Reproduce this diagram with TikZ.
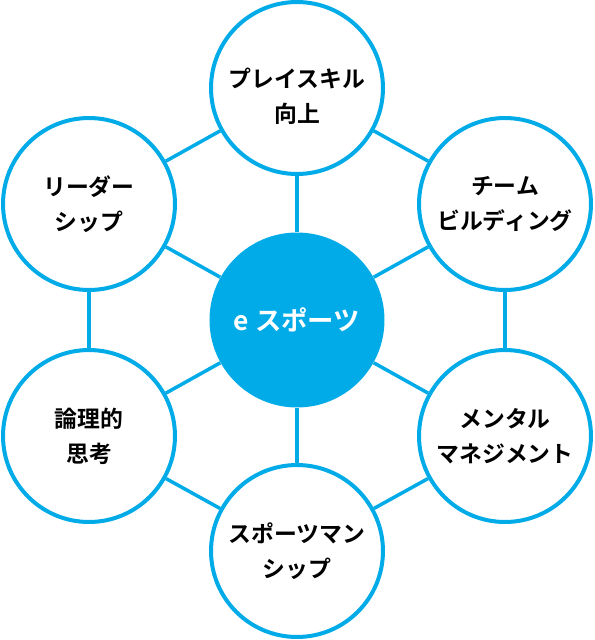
\documentclass[tikz,border=0pt]{standalone}
\usepackage{fontspec}
\newfontfamily\jpfont{Noto Sans CJK JP}[BoldFont={Noto Sans CJK JP Bold}]
\usepackage{tikz}
\usetikzlibrary{positioning}
\definecolor{eblue}{HTML}{00ABE8}

\begin{document}
\begin{tikzpicture}[
    x=0.02cm, y=-0.02cm,
    topic/.style={circle,draw=eblue,line width=0.08cm,fill=white,minimum size=3.44cm,inner sep=0pt,align=center,font=\jpfont\bfseries\fontsize{13}{20}\selectfont},
    caption/.style={inner sep=0pt,align=center,font=\jpfont\bfseries\fontsize{13}{20}\selectfont},
    hub/.style={circle,fill=eblue,minimum size=3.5cm,inner sep=0pt,text=white,font=\jpfont\bfseries\fontsize{15}{20}\selectfont},
    link/.style={draw=eblue,line width=0.07cm}
  ]
    \useasboundingbox (0,0) rectangle (595,640);

    \node[hub] (esports) at (297,320) {e スポーツ};

    \node[topic] (skill)  at (297,88)  {};
    \node[caption] (skilltext) at ([yshift=-0.17cm]skill.center) {プレイスキル\\向上};
    \node[topic] (team)   at (505,204) {チーム\\ビルディング};
    \node[topic] (mental) at (505,436) {メンタル\\マネジメント};
    \node[topic] (manner) at (297,551) {スポーツマン\\シップ};
    \node[topic] (logic)  at (89,436)  {論理的\\思考};
    \node[topic] (leader) at (89,204)  {リーダー\\シップ};

    % spokes
    \foreach \n in {skill,team,mental,manner,logic,leader}
      \path[link] (esports) -- (\n);

    % outer ring
    \path[link] (skill) -- (team);
    \path[link] (team) -- (mental);
    \path[link] (mental) -- (manner);
    \path[link] (manner) -- (logic);
    \path[link] (logic) -- (leader);
    \path[link] (leader) -- (skill);
  \end{tikzpicture}
\end{document}
